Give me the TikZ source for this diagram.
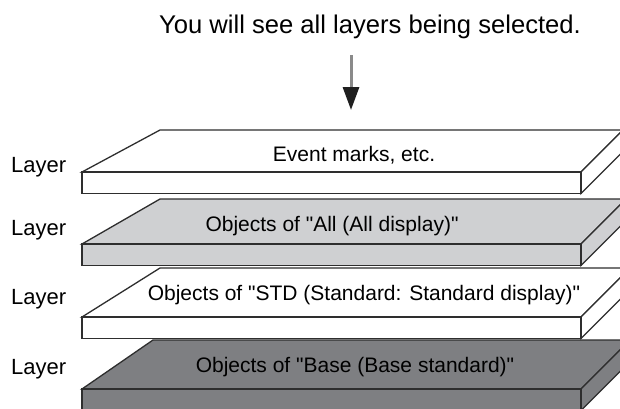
\documentclass[tikz,border=0pt]{standalone}
\usepackage{fontspec}
\setmainfont{Liberation Sans}
\newfontfamily\plainsans{Liberation Sans}
\usetikzlibrary{arrows.meta}
\definecolor{edge}{HTML}{2E2E2E}
\definecolor{lightslab}{HTML}{CFD0D2}
\definecolor{darkslab}{HTML}{7E7F82}
\definecolor{shaft}{HTML}{8A8A8A}
\tikzset{
  slabline/.style={draw=edge, line width=1.3pt, line join=miter},
  slabtext/.style={font=\plainsans\fontsize{21}{24}\selectfont, inner sep=0pt, anchor=center},
  layerlabel/.style={font=\plainsans\fontsize{22}{25}\selectfont, inner sep=0pt, anchor=west},
  titletext/.style={font=\plainsans\fontsize{25.6}{29}\selectfont, inner sep=0pt},
}
% #1 front-top y, #2 back y, #3 back-left x, #4 colour
\newcommand\slabdraw[4]{%
  \pgfmathsetmacro\brx{581+(#1-#2)}%
  \filldraw[slabline, fill=#4] (82,#1) -- (#3,#2) -- (\brx,#2) -- (581,#1) -- cycle;
  \filldraw[slabline, fill=#4] (581,#1) -- (\brx,#2) -- (\brx,#2+21.5) -- (581,#1+21.5) -- cycle;
  \filldraw[slabline, fill=#4] (82,#1) rectangle (581,#1+21.5);
}
\begin{document}
\begin{tikzpicture}[x=1pt,y=-1pt]
  \useasboundingbox (0,0) rectangle (620,408);
  \clip (0,0) rectangle (620,408);
  \fill[white] (0,0) rectangle (620,408);

  % slabs, bottom first
  \slabdraw{389}{340}{153}{darkslab}
  \slabdraw{317}{268}{160}{white}
  \slabdraw{244}{199}{160}{lightslab}
  \slabdraw{172}{130}{160}{white}

  % texts on slabs
  \node[slabtext] (s1) at (354,155) {Event marks, etc.};
  \node[slabtext] (s2) at (332,226) {Objects of "All (All display)"};
  \node[slabtext] (s3) at (364,295) {Objects of "STD (Standard: Standard display)"};
  \node[slabtext] (s4) at (355,367) {Objects of "Base (Base standard)"};

  % layer labels
  \node[layerlabel] (l1) at (11,167) {Layer};
  \node[layerlabel] (l2) at (11,230) {Layer};
  \node[layerlabel] (l3) at (11,299) {Layer};
  \node[layerlabel] (l4) at (11,369) {Layer};

  % title and arrow
  \node[titletext] (title) at (370,27) {You will see all layers being selected.};
  \coordinate (start) at (351,55);
  \coordinate (tip) at (351,110);
  \draw[shaft, line width=3pt, -{Triangle[length=23pt,width=16pt,color=black!88]}]
    (start) -- (tip);
\end{tikzpicture}
\end{document}
